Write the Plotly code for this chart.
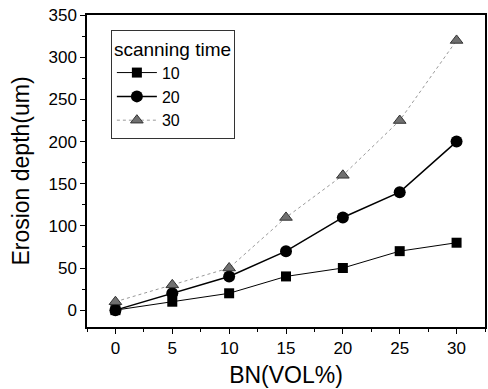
import plotly.graph_objects as go

bn_vol = [0, 5, 10, 15, 20, 25, 30]
depth_10 = [0, 10, 20, 40, 50, 70, 80]
depth_20 = [0, 20, 40, 70, 110, 140, 200]
depth_30 = [10, 30, 50, 110, 160, 225, 320]
series_names = ["10", "20", "30"]
y_ticks = [0, 50, 100, 150, 200, 250, 300, 350]

FONT = "Arial"

fig = go.Figure()
fig.add_trace(go.Scatter(
    x=bn_vol, y=depth_10, name=series_names[0], mode="lines+markers",
    line=dict(color="black", width=1),
    marker=dict(symbol="square", size=10, color="black")))
fig.add_trace(go.Scatter(
    x=bn_vol, y=depth_20, name=series_names[1], mode="lines+markers",
    line=dict(color="black", width=1.5),
    marker=dict(symbol="circle", size=12, color="black")))
fig.add_trace(go.Scatter(
    x=bn_vol, y=depth_30, name=series_names[2], mode="lines+markers",
    line=dict(color="#999999", width=1, dash="dot"),
    marker=dict(symbol="triangle-up", size=11, color="#707070",
                line=dict(color="#333333", width=1))))

axis_common = dict(
    showgrid=False, zeroline=False, showline=True, linecolor="black",
    linewidth=1.5, mirror=True, ticks="outside", ticklen=5, tickwidth=1,
    tickcolor="black", tickfont=dict(family=FONT, size=17, color="black"),
    automargin=False,
)

fig.update_xaxes(
    range=[-2.5, 32.5], tickmode="array", tickvals=bn_vol,
    minor=dict(dtick=2.5, tick0=0, ticks="outside", ticklen=3, tickcolor="black"),
    title=dict(text="BN(VOL%)", font=dict(family=FONT, size=23, color="black"), standoff=10),
    **axis_common)
fig.update_yaxes(
    range=[-20, 350.2], tickmode="array", tickvals=y_ticks,
    minor=dict(dtick=25, tick0=0, ticks="outside", ticklen=3, tickcolor="black"),
    title=dict(text="Erosion depth(um)", font=dict(family=FONT, size=23, color="black"), standoff=12),
    **axis_common)

fig.update_layout(
    width=488, height=389,
    margin=dict(l=87, r=3, t=15, b=62),
    paper_bgcolor="white", plot_bgcolor="white",
    showlegend=True,
    legend=dict(
        title=dict(text="scanning time", font=dict(family=FONT, size=19, color="black")),
        font=dict(family=FONT, size=16, color="black"),
        x=0.06, y=0.952, xanchor="left", yanchor="top",
        bordercolor="#333333", borderwidth=1, bgcolor="white",
        tracegroupgap=0, itemwidth=40,
    ),
)

fig.write_html(
    "out.html",
    config={"displayModeBar": False},
    post_script="document.body.style.margin='0';document.body.style.overflow='hidden';",
)
